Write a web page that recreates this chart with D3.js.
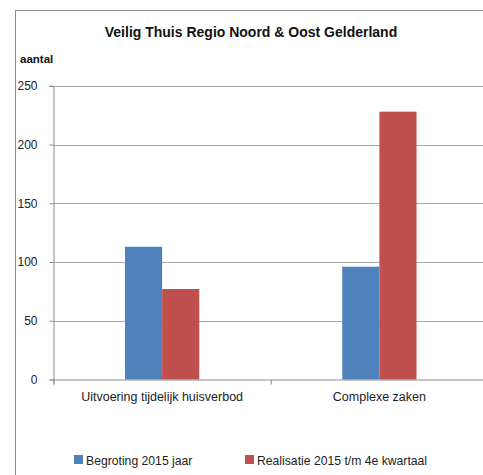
<!DOCTYPE html>
<html><head><meta charset="utf-8">
<script src="https://cdn.jsdelivr.net/npm/d3@7"></script>
<style>body{margin:0;background:#fff}svg{display:block}text{font-family:"Liberation Sans",Arial,sans-serif}</style>
</head><body><svg id="c" width="483" height="475"></svg>
<script>
const categories = ["Uitvoering tijdelijk huisverbod", "Complexe zaken"];
const seriesNames = ["Begroting 2015 jaar", "Realisatie 2015 t/m 4e kwartaal"];
const begroting = [113, 96];
const realisatie = [77, 228];
const yTicks = [0, 50, 100, 150, 200, 250];
const colors = ["#4F81BD", "#C0504D"];
const title = "Veilig Thuis Regio Noord & Oost Gelderland";
const yTitle = "aantal";

const svg = d3.select("#c");
const L = 53.5, R = 488, T = 85.8, B = 379.5;

// chart border
svg.append("rect").attr("x", 15.5).attr("y", 10.5).attr("width", 500).attr("height", 500)
  .attr("fill", "none").attr("stroke", "#8c8c8c");

const y = d3.scaleLinear().domain([0, 250]).range([B, T]);
const x = d3.scaleBand().domain(categories).range([L, R]).paddingInner(0.658).paddingOuter(0.329);
const xs = d3.scaleBand().domain(seriesNames).range([0, x.bandwidth()]);

// gridlines
svg.append("g").selectAll("line").data(yTicks.filter(d => d > 0)).join("line")
  .attr("x1", L).attr("x2", R).attr("y1", d => Math.round(y(d)) + 0.5).attr("y2", d => Math.round(y(d)) + 0.5)
  .attr("stroke", "#ababab").attr("stroke-width", 1);

// bars
const data = categories.map((c, i) => ({c, vals: [begroting[i], realisatie[i]]}));
const g = svg.append("g").selectAll("g").data(data).join("g")
  .attr("transform", d => `translate(${x(d.c)},0)`);
g.selectAll("rect").data(d => d.vals.map((v, j) => ({v, s: seriesNames[j], j}))).join("rect")
  .attr("x", d => xs(d.s)).attr("width", xs.bandwidth())
  .attr("y", d => y(d.v)).attr("height", d => B - y(d.v))
  .attr("fill", d => colors[d.j]);

// y axis
const yAxis = svg.append("g").attr("transform", `translate(${L},0)`)
  .call(d3.axisLeft(y).tickValues(yTicks).tickSize(4).tickPadding(12));
yAxis.select(".domain").attr("stroke", "#8c8c8c");
yAxis.selectAll(".tick line").attr("stroke", "#8c8c8c");
yAxis.selectAll("text").attr("font-size", 12).attr("fill", "#222")
  .style("font-family", '"Liberation Sans",Arial,sans-serif');

// x axis
const xAxis = svg.append("g").attr("transform", `translate(0,${B})`)
  .call(d3.axisBottom(d3.scalePoint().domain(["a","b","c"]).range([L, R])).tickSize(5).tickFormat(""));
xAxis.select(".domain").attr("stroke", "#8c8c8c");
xAxis.selectAll(".tick line").attr("stroke", "#8c8c8c");
svg.append("g").selectAll("text").data(categories).join("text")
  .attr("x", d => x(d) + x.bandwidth() / 2).attr("y", 401)
  .attr("text-anchor", "middle").attr("font-size", 12.5).attr("fill", "#222").text(d => d);

// title
svg.append("text").attr("x", 251).attr("y", 37).attr("text-anchor", "middle")
  .attr("font-size", 14).attr("font-weight", "bold").attr("fill", "#111").text(title);
svg.append("text").attr("x", 20).attr("y", 63)
  .attr("font-size", 11.5).attr("font-weight", "bold").attr("fill", "#111").text(yTitle);

// legend
const legX = [74, 245];
const lg = svg.append("g").selectAll("g").data(seriesNames).join("g")
  .attr("transform", (d, i) => `translate(${legX[i]},455)`);
lg.append("rect").attr("width", 9).attr("height", 9).attr("fill", (d, i) => colors[i]);
lg.append("text").attr("x", 12).attr("y", 9.5).attr("font-size", 12.2).attr("fill", "#222").text(d => d);
</script></body></html>
